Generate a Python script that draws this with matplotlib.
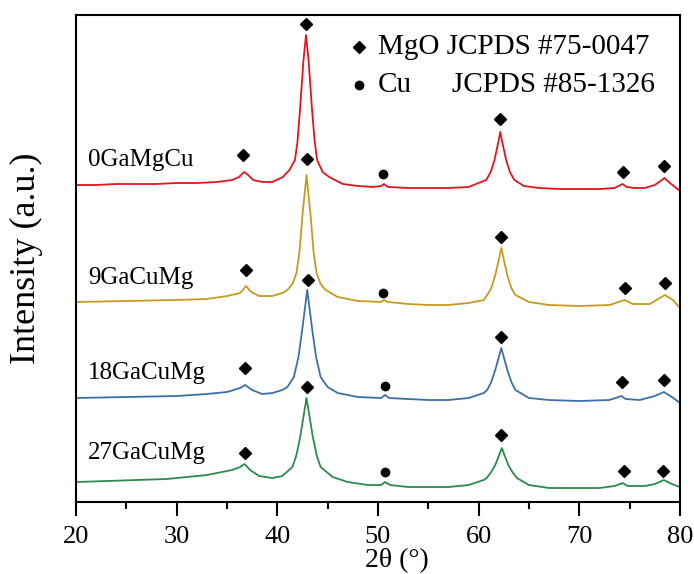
import numpy as np
import matplotlib
matplotlib.use("Agg")
import matplotlib.pyplot as plt
from matplotlib.ticker import MultipleLocator

plt.rcParams['font.family'] = ['Liberation Serif', 'DejaVu Serif']

# XRD patterns (2-theta in degrees, intensity in a.u., already stacked)
tt_0ga = [20, 22, 24, 26, 28, 30, 32, 34, 35.5, 36.2, 36.7, 37.1, 37.6, 38.5, 39.5,
          40.55, 41.2, 41.75, 42.0, 42.25, 42.6, 42.85, 43.1, 43.45, 43.7, 43.95,
          44.5, 45.15, 46.5, 48, 49.5, 50.3, 50.6, 51, 53, 55, 57, 59, 60.75, 61.2,
          61.57, 61.85, 62.0, 62.15, 62.3, 62.45, 62.73, 63.1, 63.55, 64.5, 66, 68,
          70, 72, 73.5, 74.3, 74.7, 75.5, 76.5, 77.5, 78.2, 78.45, 79, 79.5, 80]
int_0ga = [317, 317, 318, 318, 318, 319, 319, 320, 322, 325, 330, 327, 322, 320, 320,
           325, 332, 342, 360, 392, 442, 467, 442, 392, 362, 342,
           330, 325, 318, 316, 315, 316, 318, 315, 314, 314, 314, 315, 322, 330,
           342, 355, 362, 370, 362, 355, 342, 330, 322, 316, 314, 313,
           313, 313, 314, 318, 315, 314, 314, 317, 322, 324, 319, 315, 311]

tt_9ga = [20, 25, 30, 33, 35, 36.3, 36.9, 37.4, 38.2, 39.5, 40.5, 41.0, 41.5, 41.9,
          42.2, 42.48, 42.9, 43.32, 43.6, 43.9, 44.3, 44.8, 46, 48, 50.3, 50.6, 51,
          53, 55, 57, 59, 60.5, 60.85, 61.25, 61.6, 61.95, 62.25, 62.55, 62.9, 63.25,
          63.65, 65, 67, 70, 73, 74.5, 75.3, 77, 78.5, 79.3, 80]
int_9ga = [200, 201, 202, 203, 206, 209, 216, 210, 206, 206, 209, 212, 218, 229,
           250, 285, 327, 285, 250, 229, 218, 212, 205, 201, 200, 202, 200,
           198, 197, 197, 199, 202, 207, 214, 225, 240, 254, 240, 225, 214,
           207, 200, 197, 196, 197, 202, 198, 198, 207, 202, 194]

tt_18ga = [20, 25, 30, 33, 35, 36.3, 36.8, 37.5, 38.5, 39.5, 40.5, 41.0, 41.64,
           42.1, 42.47, 42.97, 43.47, 43.85, 44.3, 45, 46, 48, 50.3, 50.7, 51.1, 53,
           55, 57, 59, 60.5, 60.85, 61.25, 61.65, 61.95, 62.25, 62.55, 62.85, 63.25,
           63.65, 65, 67, 70, 73, 74.2, 74.6, 76, 77.5, 78.4, 79.2, 80]
int_18ga = [104, 105, 106, 108, 110, 114, 117, 112, 108, 109, 112, 115, 125,
            145, 172, 212, 172, 145, 125, 115, 109, 105, 104, 107, 104, 103,
            102, 102, 104, 109, 112, 120, 132, 143, 154, 143, 132, 120,
            112, 104, 102, 101, 102, 106, 103, 102, 106, 110, 105, 99]

tt_27ga = [20, 23, 26, 29, 31, 33, 34.5, 35.5, 36.3, 36.75, 37.3, 38.2, 39.5, 40.5,
           41.5, 41.9, 42.27, 42.9, 43.53, 43.9, 44.3, 45.5, 47, 49, 50.3, 50.7,
           51.2, 53, 55, 57, 59, 60.5, 60.8, 61.25, 61.65, 62.0, 62.3, 62.6, 62.95,
           63.35, 63.8, 65, 67, 70, 72, 73.5, 74.3, 74.8, 76.5, 77.5, 78.4, 79.2, 80]
int_27ga = [20, 21, 22, 23, 25, 27, 30, 32, 35, 38, 32, 26, 24, 26,
            35, 47, 65, 104, 65, 47, 35, 25, 20, 17, 17, 20,
            17, 15, 15, 15, 17, 22, 24, 30, 37, 46, 54, 46, 37,
            30, 24, 17, 14, 14, 14, 16, 19, 16, 16, 18, 22, 18, 15]

samples = ['0GaMgCu', '9GaCuMg', '18GaCuMg', '27GaCuMg']
colors = ['#e3141b', '#c59a1e', '#3d6fa8', '#2c8a4c']
label_y = [342, 224, 129, 49]

# reflection markers (2-theta, height)
mgo_tt = [[36.6, 42.85, 62.15, 74.3, 78.4],
          [36.9, 42.9, 62.2, 74.5, 78.5],
          [36.8, 43.0, 62.2, 74.2, 78.4],
          [36.75, 42.9, 62.25, 74.4, 78.3]]
mgo_h = [[347, 478, 383, 330, 336],
         [232, 343, 265, 214, 219],
         [134, 222, 165, 120, 122],
         [49, 115, 67, 31, 31]]
cu_tt = [50.5, 50.5, 50.7, 50.7]
cu_h = [328, 209, 116, 30]

curves = [(tt_0ga, int_0ga), (tt_9ga, int_9ga), (tt_18ga, int_18ga), (tt_27ga, int_27ga)]

fig = plt.figure(figsize=(6.94, 5.74), dpi=100)
ax = fig.add_axes([0.1095, 0.1254, 0.8703, 0.8485])

for (tt, inten), c, name, ly in zip(curves, colors, samples, label_y):
    ax.plot(tt, inten, color=c, lw=1.3)
    ax.text(21.2, ly, name, fontsize=18, va='center', ha='left')

for xs, hs in zip(mgo_tt, mgo_h):
    ax.plot(xs, hs, 'D', color='black', ms=6.5, ls='none')
ax.plot(cu_tt, cu_h, 'o', color='black', ms=6, ls='none')

# legend drawn by hand so the two columns line up
ax.plot([0.468], [0.935], 'D', color='black', ms=6.5, transform=ax.transAxes, clip_on=False)
ax.plot([0.468], [0.857], 'o', color='black', ms=6, transform=ax.transAxes, clip_on=False)
ax.text(0.50, 0.935, 'MgO JCPDS #75-0047', transform=ax.transAxes, fontsize=21, va='center')
ax.text(0.50, 0.857, 'Cu', transform=ax.transAxes, fontsize=21, va='center')
ax.text(0.622, 0.857, 'JCPDS #85-1326', transform=ax.transAxes, fontsize=21, va='center')

ax.set_xlim(20, 80)
ax.set_ylim(0, 487)
ax.set_yticks([])
ax.xaxis.set_major_locator(MultipleLocator(10))
ax.xaxis.set_minor_locator(MultipleLocator(5))
ax.tick_params(axis='x', which='major', direction='out', length=10, width=1.5,
               labelsize=19, pad=7)
ax.tick_params(axis='x', which='minor', direction='out', length=5, width=1.5)
for s in ax.spines.values():
    s.set_linewidth(1.5)

ax.set_xlabel('2θ (°)', fontsize=20, va='bottom')
ax.xaxis.set_label_coords(0.572, 0.001, transform=fig.transFigure)
ax.set_ylabel('Intensity (a.u.)', fontsize=26)
ax.yaxis.set_label_coords(-0.055, 0.5)

fig.savefig('out.png', dpi=100)
